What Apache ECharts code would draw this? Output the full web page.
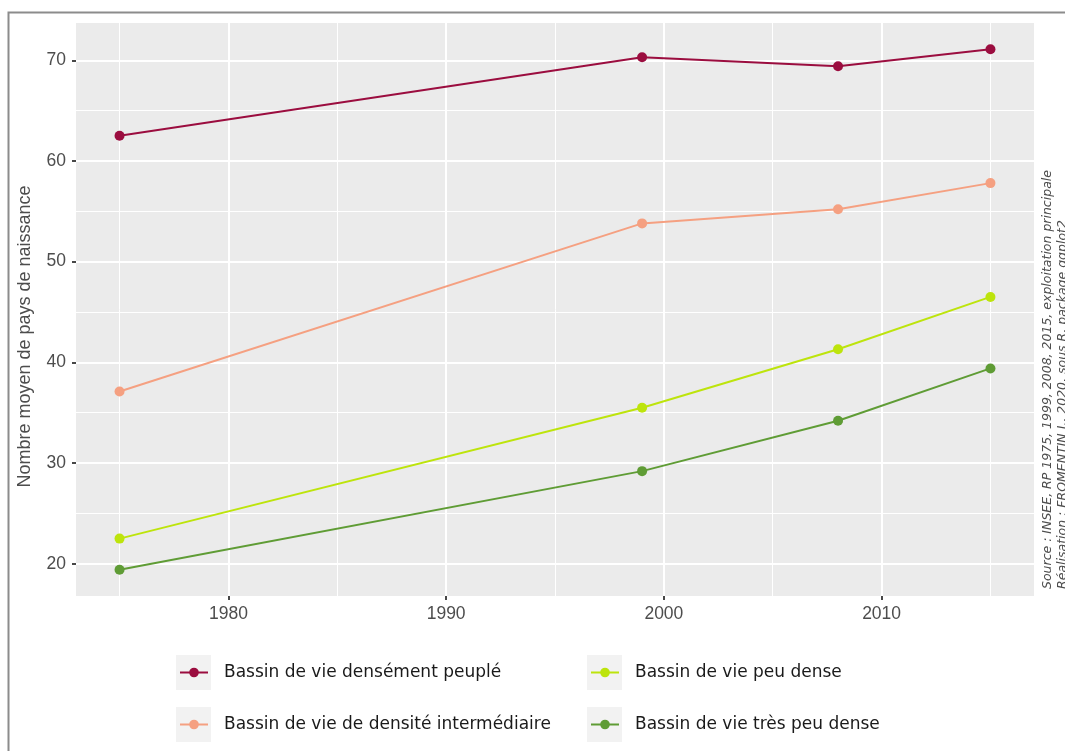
<!DOCTYPE html>
<html>
<head>
<meta charset="utf-8">
<script src="https://cdn.jsdelivr.net/npm/echarts@6/dist/echarts.min.js"></script>
<style>
  html, body { margin: 0; padding: 0; background: #fff; }
  #chart { width: 1065px; height: 751px; }
</style>
</head>
<body>
<div id="chart"></div>
<script>
// années de recensement
const years = [1975, 1999, 2008, 2015]
// séries
const names = [
  'Bassin de vie densément peuplé',
  'Bassin de vie de densité intermédiaire',
  'Bassin de vie peu dense',
  'Bassin de vie très peu dense'
]
const densePeuple = [62.5, 70.3, 69.4, 71.1]
const intermediaire = [37.1, 53.8, 55.2, 57.8]
const peuDense = [22.5, 35.5, 41.3, 46.5]
const tresPeuDense = [19.4, 29.2, 34.2, 39.4]
// graduations
const xMajor = [1980, 1990, 2000, 2010]
const xMinor = [1975, 1985, 1995, 2005, 2015]
const yMajor = [20, 30, 40, 50, 60, 70]
const yMinor = [25, 35, 45, 55, 65]

const colors = ['#9b0d3f', '#f5a081', '#bde40c', '#5f9c35']
const values = [densePeuple, intermediaire, peuDense, tresPeuDense]

const chart = echarts.init(document.getElementById('chart'))

let series = []
values.forEach((vals, i) => {
  series.push({
    name: names[i],
    type: 'line',
    xAxisIndex: 0,
    yAxisIndex: 0,
    data: years.map((y, k) => [y, vals[k]]),
    symbol: 'circle',
    symbolSize: 10,
    color: colors[i],
    lineStyle: { width: 2 },
    z: 3
  })
})

// légende : 2 colonnes
const legendPos = [
  { left: 179, top: 664 },
  { left: 179, top: 716 },
  { left: 590, top: 664 },
  { left: 590, top: 716 }
]
let legend = names.map((n, i) => ({
  data: [n],
  left: legendPos[i].left,
  top: legendPos[i].top,
  padding: 0,
  itemWidth: 28,
  itemHeight: 12,
  selectedMode: false,
  textStyle: {
    fontFamily: 'DejaVu Sans',
    fontSize: 17,
    color: '#1a1a1a',
    padding: [0, 0, 0, 11]
  }
}))

// fonds gris des clés
const keyBoxes = [[176, 655], [176, 707], [587, 655], [587, 707]]
let graphic = keyBoxes.map(b => ({
  type: 'rect',
  shape: { x: b[0], y: b[1], width: 35, height: 35 },
  style: { fill: '#f2f2f2' },
  z: 0
}))
// cadre
graphic.push({
  type: 'rect',
  shape: { x: 8.5, y: 12.5, width: 1200, height: 900 },
  style: { fill: 'none', stroke: '#8c8c8c', lineWidth: 2 },
  z: 0
})
// source
graphic.push({
  type: 'text',
  x: 1048,
  y: 589,
  rotation: Math.PI / 2,
  style: {
    text: 'Source : INSEE, RP 1975, 1999, 2008, 2015, exploitation principale',
    font: 'italic 12.5px "DejaVu Sans"',
    fill: '#4d4d4d',
    align: 'left',
    verticalAlign: 'middle'
  }
})
graphic.push({
  type: 'text',
  x: 1063,
  y: 589,
  rotation: Math.PI / 2,
  style: {
    text: 'Réalisation : FROMENTIN J., 2020, sous R, package ggplot2',
    font: 'italic 12.5px "DejaVu Sans"',
    fill: '#4d4d4d',
    align: 'left',
    verticalAlign: 'middle'
  }
})

const tickStyle = { show: true, length: 4, lineStyle: { color: '#333', width: 1.8 } }
const labelFont = { color: '#4d4d4d', fontSize: 17.5, fontFamily: 'Liberation Sans' }

chart.setOption({
  animation: false,
  backgroundColor: '#fff',
  grid: {
    left: 76,
    top: 23,
    right: 31,
    bottom: 155,
    show: true,
    backgroundColor: '#ebebeb',
    borderWidth: 0
  },
  legend,
  graphic,
  xAxis: [
    {
      type: 'value',
      min: 1973,
      max: 2017,
      axisLine: { show: false },
      axisTick: Object.assign({ customValues: xMajor }, tickStyle),
      axisLabel: Object.assign({
        customValues: xMajor,
        margin: 9,
        formatter: v => String(v)
      }, labelFont),
      splitLine: { show: true, lineStyle: { color: '#fff', width: 2 } },
      z: 2
    },
    {
      type: 'value',
      min: 1973,
      max: 2017,
      position: 'bottom',
      axisLine: { show: false },
      axisTick: { show: false, customValues: xMinor },
      axisLabel: { show: false, customValues: xMinor },
      splitLine: { show: true, lineStyle: { color: '#fff', width: 1 } },
      z: 1
    }
  ],
  yAxis: [
    {
      type: 'value',
      min: 16.8,
      max: 73.7,
      name: 'Nombre moyen de pays de naissance',
      nameLocation: 'middle',
      nameGap: 42,
      nameTextStyle: {
        color: '#4d4d4d',
        fontSize: 18,
        fontFamily: 'Liberation Sans',
        padding: [0, 54, 0, 0]
      },
      axisLine: { show: false },
      axisTick: Object.assign({ customValues: yMajor }, tickStyle),
      axisLabel: Object.assign({ customValues: yMajor, margin: 10 }, labelFont),
      splitLine: { show: true, lineStyle: { color: '#fff', width: 2 } },
      z: 2
    },
    {
      type: 'value',
      min: 16.8,
      max: 73.7,
      position: 'left',
      axisLine: { show: false },
      axisTick: { show: false, customValues: yMinor },
      axisLabel: { show: false, customValues: yMinor },
      splitLine: { show: true, lineStyle: { color: '#fff', width: 1 } },
      z: 1
    }
  ],
  series
})
</script>
</body>
</html>
